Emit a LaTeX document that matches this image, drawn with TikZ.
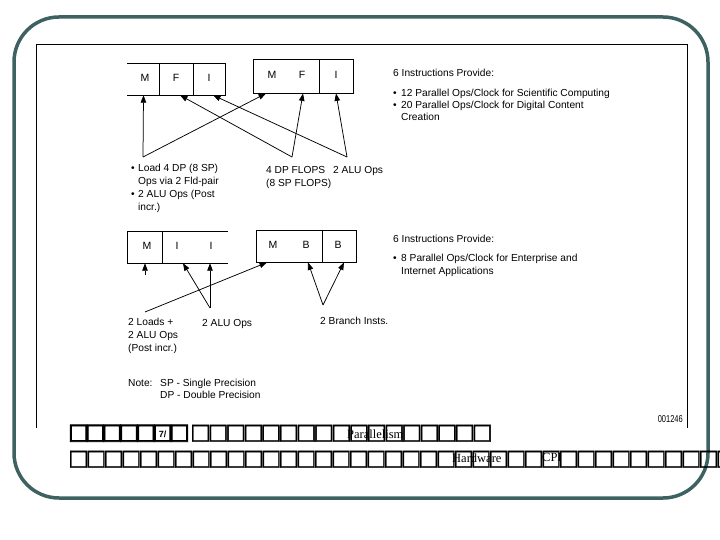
\documentclass[tikz,border=0pt]{standalone}
\usepackage{fontspec}
\setmainfont{Liberation Sans}
\newfontfamily\serifsm{Liberation Serif}
\newfontfamily\tofufont[FakeBold=1.5]{DejaVu Sans}
\newfontfamily\tofubold[FakeBold=3.5]{DejaVu Sans}
\newfontfamily\narrowf[FakeStretch=0.75]{Liberation Sans}
\usetikzlibrary{arrows.meta}
\definecolor{framecol}{RGB}{62,98,98}
\begin{document}
\begin{tikzpicture}[x=1pt,y=-1pt,
  txt/.style={anchor=base west, inner sep=0, font=\fontsize{10.2}{12}\selectfont},
  lbl/.style={inner sep=0, font=\fontsize{10.5}{12}\selectfont},
  cell/.style={inner sep=0},
  boxline/.style={line width=0.8pt},
  arr/.style={line width=0.75pt, -{Triangle[length=7.5pt,width=5.5pt]}},
  tofu/.style={inner sep=0, anchor=base west, font=\tofufont\fontsize{22}{22}\selectfont},
  tofub/.style={inner sep=0, anchor=base west, font=\tofubold\fontsize{22}{22}\selectfont},
  smserif/.style={inner sep=0, anchor=base west, font=\serifsm\fontsize{12.5}{12.5}\selectfont}
]
\useasboundingbox (0,0) rectangle (720,540);
\fill[white] (0,0) rectangle (720,540);

% frames
\draw[line width=3.5pt, color=framecol, rounded corners=45pt] (14,17) rectangle (708,498);
\draw[line width=0.9pt] (36,428) -- (36,44) -- (687,44) -- (687,428);

% ---- top row boxes
\node[cell, minimum width=33pt, minimum height=31pt] (b1m) at (143.5,79.5) {};
\node[cell, minimum width=33pt, minimum height=31pt] (b1f) at (176.5,79.5) {};
\node[cell, minimum width=32pt, minimum height=31pt] (b1i) at (209,79.5) {};
\draw[boxline] (b1m.north west) -- (b1i.north east) -- (b1i.south east) -- (b1m.south west);
\draw[boxline] (b1f.north west) -- (b1f.south west) (b1f.north east) -- (b1f.south east);
\node[lbl] (l1m) at (145,78) {M};
\node[lbl] (l1f) at (176,78) {F};
\node[lbl] (l1i) at (209,78) {I};

\node[cell, draw, boxline, minimum width=66pt, minimum height=34pt] (b2mf) at (286,76) {};
\node[cell, draw, boxline, minimum width=34pt, minimum height=34pt] (b2i) at (336,76) {};
\node[lbl] (l2m) at (272,75) {M};
\node[lbl] (l2f) at (302,75) {F};
\node[lbl] (l2i) at (336,75) {I};

\coordinate (a1) at (143,157);
\coordinate (a2) at (292,157);
\coordinate (a3) at (347,157);
\draw[arr] (a1) -- (b1m.south);
\draw[arr] (a1) -- ([xshift=-20pt]b2mf.south);
\draw[arr] (a2) -- ([xshift=3.5pt]b1f.south);
\draw[arr] (a2) -- ([xshift=17pt]b2mf.south);
\draw[arr] (a3) -- ([xshift=4pt]b1i.south);
\draw[arr] (a3) -- (b2i.south);

\node[txt] (tb1) at (131,172) {•};
\node[txt] (t11) at (138,172) {Load 4 DP (8 SP)};
\node[txt] (t12) at (138,185) {Ops via 2 Fld-pair};
\node[txt] (tb2) at (131,198) {•};
\node[txt] (t13) at (138,198) {2 ALU Ops (Post};
\node[txt] (t14) at (138,211) {incr.)};
\node[txt] (t21) at (266,174) {4 DP FLOPS};
\node[txt] (t22) at (266,187) {(8 SP FLOPS)};
\node[txt] (t31) at (333,174) {2 ALU Ops};

\node[txt] (r1) at (393,77) {6 Instructions Provide:};
\node[txt] (r1b1) at (393,97) {•};
\node[txt] (r11) at (401,97) {12 Parallel Ops/Clock for Scientific Computing};
\node[txt] (r1b2) at (393,109) {•};
\node[txt] (r12) at (401,109) {20 Parallel Ops/Clock for Digital Content};
\node[txt] (r13) at (401,121) {Creation};

% ---- bottom row boxes
\node[cell, minimum width=34pt, minimum height=31pt] (b3m) at (145,247.5) {};
\node[cell, minimum width=33pt, minimum height=31pt] (b3i1) at (178.5,247.5) {};
\node[cell, minimum width=33pt, minimum height=31pt] (b3i2) at (211.5,247.5) {};
\draw[boxline] (b3i2.north east) -- (b3m.north west) -- (b3m.south west) -- (b3i2.south east);
\draw[boxline] (b3m.north east) -- (b3m.south east);
\node[lbl] (l3m) at (147,246) {M};
\node[lbl] (l3i1) at (177,246) {I};
\node[lbl] (l3i2) at (211,246) {I};

\node[cell, draw, boxline, minimum width=66pt, minimum height=32pt] (b4mb) at (289,246) {};
\node[cell, draw, boxline, minimum width=34pt, minimum height=32pt] (b4b) at (339,246) {};
\node[lbl] (l4m) at (273,245) {M};
\node[lbl] (l4b1) at (306,245) {B};
\node[lbl] (l4b2) at (338,245) {B};

\coordinate (c0) at (145,275);
\coordinate (c1) at (145,312);
\coordinate (c2) at (210,308);
\coordinate (c3) at (323,305);
\draw[arr] (c0) -- (b3m.south);
\draw[arr] (c1) -- ([xshift=-22pt]b4mb.south);
\draw[arr] (c2) -- ([xshift=-1.5pt]b3i2.south);
\draw[arr] (c2) -- ([xshift=4.5pt]b3i1.south);
\draw[arr] (c3) -- ([xshift=19pt]b4mb.south);
\draw[arr] (c3) -- ([xshift=5pt]b4b.south);

\node[txt] (s1) at (128,325) {2 Loads +};
\node[txt] (s2) at (128,338) {2 ALU Ops};
\node[txt] (s3) at (128,351) {(Post incr.)};
\node[txt] (s4) at (202,326) {2 ALU Ops};
\node[txt] (s5) at (320,324) {2 Branch Insts.};

\node[txt] (q1) at (393,242) {6 Instructions Provide:};
\node[txt] (q1b) at (393,261) {•};
\node[txt] (q11) at (401,261) {8 Parallel Ops/Clock for Enterprise and};
\node[txt] (q12) at (401,274) {Internet Applications};

\node[txt] (n1) at (128,386) {Note:};
\node[txt] (n2) at (160,386) {SP - Single Precision};
\node[txt] (n3) at (160,398) {DP - Double Precision};

\node[inner sep=0, anchor=base east, font=\narrowf\fontsize{10}{10}\selectfont] (code) at (683,422) {001246};

% ---- caption rows of missing glyphs
\foreach \k in {0,...,6} \node[tofub] (ra\k) at (68+\k*16.8,439) {□};
\node[inner sep=0, font=\bfseries\fontsize{9}{9}\selectfont] (seven) at ([yshift=-1pt]ra5.center) {7/};
\foreach \k in {0,...,16} \node[tofu] (rb\k) at (190+\k*17.6,439) {□};
\foreach \k in {0,...,37} \node[tofu] (rc\k) at (68+\k*17.5,465) {□};
\node[smserif] (par) at (347,438) {Parallelism};
\node[smserif] (hw) at (452,462) {Hardware};
\node[smserif] (cpi) at (542,461) {CPI};
\end{tikzpicture}
\end{document}
